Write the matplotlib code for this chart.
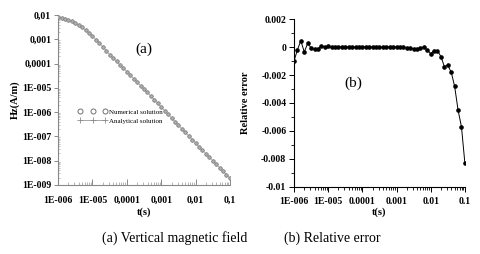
import matplotlib
matplotlib.use("Agg")
import matplotlib.pyplot as plt
from matplotlib.lines import Line2D
from matplotlib.ticker import FixedLocator, LogLocator, NullFormatter, MultipleLocator

plt.rcParams['font.family'] = ['Liberation Serif', 'DejaVu Serif']

# time samples (s), 10 per decade from 1e-6 to 0.1
t = [1.00e-6, 1.26e-6, 1.58e-6, 2.00e-6, 2.51e-6, 3.16e-6, 3.98e-6, 5.01e-6, 6.31e-6, 7.94e-6,
     1.00e-5, 1.26e-5, 1.58e-5, 2.00e-5, 2.51e-5, 3.16e-5, 3.98e-5, 5.01e-5, 6.31e-5, 7.94e-5,
     1.00e-4, 1.26e-4, 1.58e-4, 2.00e-4, 2.51e-4, 3.16e-4, 3.98e-4, 5.01e-4, 6.31e-4, 7.94e-4,
     1.00e-3, 1.26e-3, 1.58e-3, 2.00e-3, 2.51e-3, 3.16e-3, 3.98e-3, 5.01e-3, 6.31e-3, 7.94e-3,
     1.00e-2, 1.26e-2, 1.58e-2, 2.00e-2, 2.51e-2, 3.16e-2, 3.98e-2, 5.01e-2, 6.31e-2, 7.94e-2,
     1.00e-1]

# vertical magnetic field Hz (A/m)
hz = [7.94e-3, 7.59e-3, 7.08e-3, 6.31e-3, 5.50e-3, 4.68e-3, 3.80e-3, 3.09e-3, 2.40e-3, 1.82e-3,
      1.35e-3, 9.77e-4, 6.92e-4, 4.90e-4, 3.39e-4, 2.34e-4, 1.70e-4, 1.23e-4, 8.91e-5, 6.46e-5,
      4.68e-5, 3.39e-5, 2.40e-5, 1.74e-5, 1.23e-5, 8.91e-6, 6.46e-6, 4.57e-6, 3.24e-6, 2.29e-6,
      1.62e-6, 1.15e-6, 8.13e-7, 5.75e-7, 4.07e-7, 2.88e-7, 2.09e-7, 1.48e-7, 1.05e-7, 7.41e-8,
      5.25e-8, 3.80e-8, 2.69e-8, 1.95e-8, 1.38e-8, 1.00e-8, 7.08e-9, 5.13e-9, 3.63e-9, 2.63e-9,
      1.91e-9]

# relative error
rel_err = [-0.0010, -0.0002, 0.00045, -0.00035, 0.00026, -0.00005, -0.00017, -0.00012, 0.00007, 0.00002,
           0.00005, 0.0, 0.00002, 0.0, 0.0, 0.0, 0.0, 0.0, 0.0, 0.0,
           0.0, 0.0, 0.0, 0.0, 0.0, 0.0, 0.0, 0.0, 0.0, 0.0,
           0.0, 0.0, -0.00002, -0.00006, -0.0001, -0.00012, -0.00017, -0.00005, 0.0, -0.00021,
           -0.00048, -0.00026, -0.00026, -0.00069, -0.0014, -0.0013, -0.0018, -0.0028, -0.0045, -0.0057,
           -0.0083]

xticks = [1e-6, 1e-5, 1e-4, 1e-3, 1e-2, 1e-1]
xlabels_a = ['1E-006', '1E-005', '0,0001', '0,001', '0,01', '0,1']
xlabels_b = ['1E-006', '1E-005', '0.0001', '0.001', '0.01', '0.1']
yticks_a = [1e-9, 1e-8, 1e-7, 1e-6, 1e-5, 1e-4, 1e-3, 1e-2]
ylabels_a = ['1E-009', '1E-008', '1E-007', '1E-006', '1E-005', '0,0001', '0,001', '0,01']
yticks_b = [-0.01, -0.008, -0.006, -0.004, -0.002, 0, 0.002]
ylabels_b = ['-0.01', '-0.008', '-0.006', '-0.004', '-0.002', '0', '0.002']

fig = plt.figure(figsize=(4.8, 2.54), dpi=100)
tickfont = dict(fontsize=7, fontweight='bold')

# ---------- panel (a)
ax1 = fig.add_axes([0.121, 0.272, 0.358, 0.669])
ax1.set_xscale('log')
ax1.set_yscale('log')
ax1.plot(t, hz, linestyle='-', color='#9a9a9a', linewidth=0.5, marker='+',
         markersize=3, markeredgewidth=0.5, zorder=2)
ax1.plot(t, hz, linestyle='none', marker='o', markersize=2.5, markerfacecolor='#b0b0b0',
         markeredgecolor='#808080', markeredgewidth=0.6, zorder=3)
ax1.set_xlim(1e-6, 0.1)
ax1.set_ylim(1e-9, 1e-2)
ax1.xaxis.set_major_locator(FixedLocator(xticks))
ax1.set_xticklabels(xlabels_a, **tickfont)
ax1.xaxis.set_minor_locator(LogLocator(base=10, subs=range(2, 10), numticks=20))
ax1.xaxis.set_minor_formatter(NullFormatter())
ax1.yaxis.set_major_locator(FixedLocator(yticks_a))
ax1.set_yticklabels(ylabels_a, **tickfont)
ax1.yaxis.set_minor_locator(LogLocator(base=10, subs=range(2, 10), numticks=20))
ax1.yaxis.set_minor_formatter(NullFormatter())
ax1.tick_params(axis='x', which='major', direction='in', length=4, width=0.6, colors='#777777',
                labelcolor='black', pad=8)
ax1.tick_params(axis='x', which='minor', direction='in', length=2, width=0.5, colors='#999999')
ax1.tick_params(axis='y', which='major', direction='out', length=3, width=0.6, colors='#777777',
                labelcolor='black', pad=2)
ax1.tick_params(axis='y', which='minor', direction='in', length=1.5, width=0.5, colors='#aaaaaa')
for s in ['top', 'right']:
    ax1.spines[s].set_visible(False)
for s in ['left', 'bottom']:
    ax1.spines[s].set_color('#888888')
    ax1.spines[s].set_linewidth(0.8)
ax1.set_xlabel('t(s)', fontsize=7.5, fontweight='bold', labelpad=2)
ax1.set_ylabel('Hz(A/m)', fontsize=7.5, fontweight='bold', labelpad=1)
ax1.text(0.5, 0.8, '(a)', transform=ax1.transAxes, fontsize=11, ha='center', va='center')
leg_handles = [
    Line2D([], [], linestyle='none', marker='o', markersize=3.6, markerfacecolor='white',
           markeredgecolor='#707070', markeredgewidth=0.7),
    Line2D([], [], linestyle='-', color='#9a9a9a', linewidth=0.6, marker='+', markersize=4.5,
           markeredgewidth=0.6, markeredgecolor='#8a8a8a'),
]
ax1.legend(leg_handles, ['Numerical solution', 'Analytical solution'], loc='center left',
           bbox_to_anchor=(0.08, 0.405), frameon=False, fontsize=5, numpoints=3,
           handlelength=4.2, handletextpad=0.25, labelspacing=0.45)

# ---------- panel (b)
ax2 = fig.add_axes([0.6125, 0.264, 0.356, 0.661])
ax2.set_xscale('log')
ax2.plot(t, rel_err, color='black', linewidth=0.7, marker='o', markersize=2.3,
         markerfacecolor='black', markeredgecolor='black')
ax2.set_xlim(1e-6, 0.1)
ax2.set_ylim(-0.01, 0.002)
ax2.xaxis.set_major_locator(FixedLocator(xticks))
ax2.set_xticklabels(xlabels_b, **tickfont)
ax2.xaxis.set_minor_locator(LogLocator(base=10, subs=range(2, 10), numticks=20))
ax2.xaxis.set_minor_formatter(NullFormatter())
ax2.yaxis.set_major_locator(FixedLocator(yticks_b))
ax2.set_yticklabels(ylabels_b, **tickfont)
ax2.yaxis.set_minor_locator(MultipleLocator(0.001))
ax2.tick_params(axis='both', which='major', direction='out', length=3.5, width=0.7, pad=2)
ax2.tick_params(axis='x', which='major', pad=4)
ax2.tick_params(axis='both', which='minor', direction='out', length=2, width=0.6)
for s in ['top', 'right']:
    ax2.spines[s].set_visible(False)
for s in ['left', 'bottom']:
    ax2.spines[s].set_linewidth(0.8)
ax2.set_xlabel('t(s)', fontsize=7.5, fontweight='bold', labelpad=1)
ax2.set_ylabel('Relative error', fontsize=7.5, fontweight='bold', labelpad=8)
ax2.text(0.35, 0.62, '(b)', transform=ax2.transAxes, fontsize=11, ha='center', va='center')

# captions
fig.text(0.363, 0.063, '(a) Vertical magnetic field', fontsize=10, ha='center', va='center')
fig.text(0.692, 0.063, '(b) Relative error', fontsize=10, ha='center', va='center')

fig.savefig('out.png', dpi=100)
